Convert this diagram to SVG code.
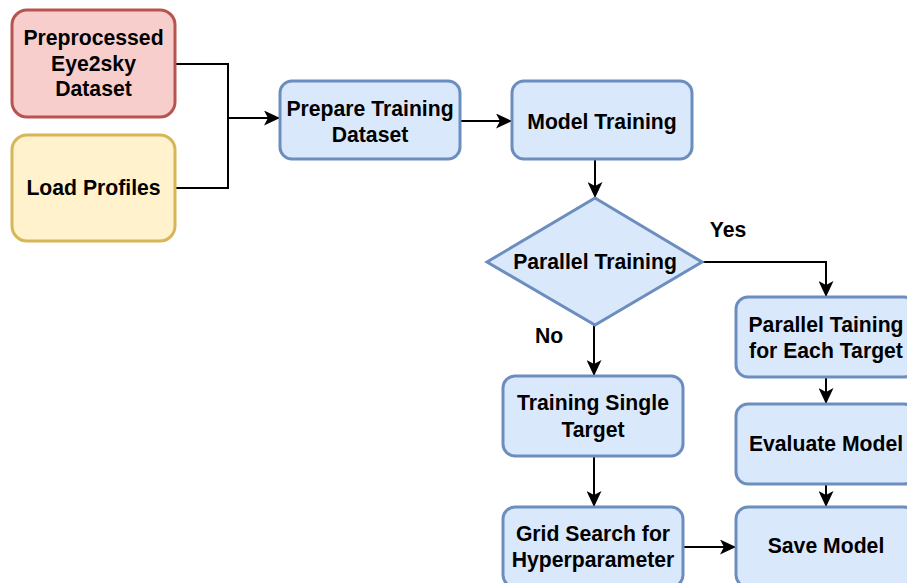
<svg xmlns="http://www.w3.org/2000/svg" width="907" height="583" viewBox="0 0 907 583">
<style>
.blue{fill:#dae8fc;stroke:#6c8ebf;stroke-width:3}
.red{fill:#f8cecc;stroke:#b85450;stroke-width:3}
.yellow{fill:#fff2cc;stroke:#d6b656;stroke-width:3}
text{font-family:"Liberation Sans",Arial,sans-serif;font-weight:bold;font-size:21.2px;fill:#000;text-anchor:middle}
.edge{fill:none;stroke:#000;stroke-width:2}
</style>
<defs>
<marker id="arr" markerUnits="userSpaceOnUse" markerWidth="16" markerHeight="15" viewBox="0 0 16 15" refX="16" refY="7.5" orient="auto">
<path d="M0,0 L16,7.5 L0,15 L4,7.5 Z" fill="#000"/>
</marker>
</defs>
<rect width="907" height="583" fill="#fff"/>
<g id="connectors">
<path class="edge" d="M175,64 H228 V118 H280" marker-end="url(#arr)"/>
<path class="edge" d="M175,188 H228 V118"/>
<path class="edge" d="M460,121 H512" marker-end="url(#arr)"/>
<path class="edge" d="M595,160 V198" marker-end="url(#arr)"/>
<path class="edge" d="M702,262 H826 V297" marker-end="url(#arr)"/>
<path class="edge" d="M594,325 V376" marker-end="url(#arr)"/>
<path class="edge" d="M594,456 V507" marker-end="url(#arr)"/>
<path class="edge" d="M826,377 V404" marker-end="url(#arr)"/>
<path class="edge" d="M826,484 V507" marker-end="url(#arr)"/>
<path class="edge" d="M683,547 H736" marker-end="url(#arr)"/>
<text x="728" y="237">Yes</text>
<text x="549" y="343">No</text>
</g>
<g id="preprocessed">
<rect class="red" x="12" y="10" width="163" height="107" rx="15"/>
<text x="93.5" y="45">Preprocessed</text>
<text x="93.5" y="70.5">Eye2sky</text>
<text x="93.5" y="96">Dataset</text>
</g>
<g id="load-profiles">
<rect class="yellow" x="12" y="135" width="163" height="106" rx="15"/>
<text x="93.5" y="195">Load Profiles</text>
</g>
<g id="prepare">
<rect class="blue" x="280" y="81" width="180" height="78" rx="12"/>
<text x="370" y="115.5">Prepare Training</text>
<text x="370" y="141.5">Dataset</text>
</g>
<g id="model-training">
<rect class="blue" x="512" y="81" width="180" height="78" rx="12"/>
<text x="602" y="129">Model Training</text>
</g>
<g id="parallel-decision">
<polygon class="blue" points="595,198 702,262 595,325 487,262"/>
<text x="595" y="269">Parallel Training</text>
</g>
<g id="single-target">
<rect class="blue" x="503" y="376" width="180" height="80" rx="12"/>
<text x="593" y="410">Training Single</text>
<text x="593" y="436.5">Target</text>
</g>
<g id="grid-search">
<rect class="blue" x="503" y="507" width="180" height="80" rx="12"/>
<text x="593" y="540.5">Grid Search for</text>
<text x="593" y="567">Hyperparameter</text>
</g>
<g id="parallel-each">
<rect class="blue" x="736" y="297" width="180" height="80" rx="12"/>
<text x="826" y="331.5">Parallel Taining</text>
<text x="826" y="357.5">for Each Target</text>
</g>
<g id="evaluate">
<rect class="blue" x="736" y="404" width="180" height="80" rx="12"/>
<text x="826" y="450.5">Evaluate Model</text>
</g>
<g id="save">
<rect class="blue" x="736" y="507" width="180" height="80" rx="12"/>
<text x="826" y="552.5">Save Model</text>
</g>
</svg>
